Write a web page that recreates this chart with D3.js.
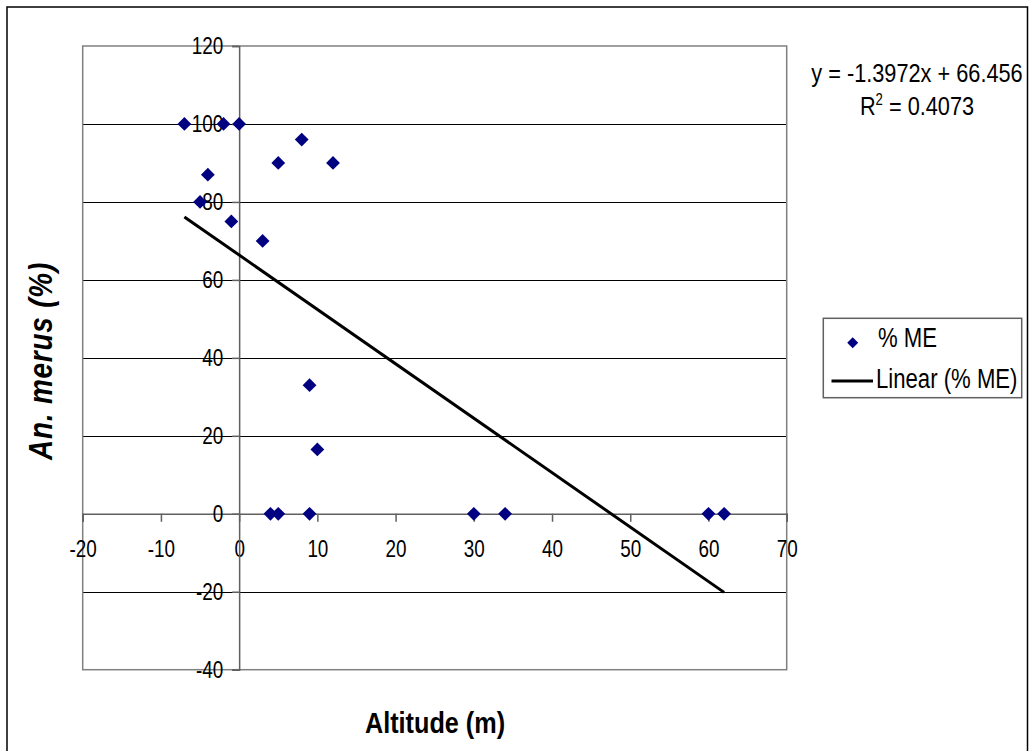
<!DOCTYPE html>
<html>
<head>
<meta charset="utf-8">
<script src="https://cdn.jsdelivr.net/npm/d3@7"></script>
<style>
  body { margin: 0; background: #fff; }
  svg text { font-family: "Liberation Sans", Arial, sans-serif; fill: #000; }
</style>
</head>
<body>
<script>
// altitude (m) and % An. merus
const altitude = [-7, -2, 0, 8, 5, 12, -4, -5, -1, 3, 9, 10, 4, 5, 9, 30, 34, 60, 62];
const merusPct = [100, 100, 100, 96, 90, 90, 87, 80, 75, 70, 33, 16.5, 0, 0, 0, 0, 0, 0, 0];
const xTicks = [-20, -10, 0, 10, 20, 30, 40, 50, 60, 70];
const yTicks = [-40, -20, 0, 20, 40, 60, 80, 100, 120];
const seriesName = '% ME';
const equationText = 'y = -1.3972x + 66.456';
const r2Value = '0.4073';

const width = 1029;
const height = 751;
const plot = { left: 82.7, right: 786.7, top: 46, bottom: 669.7 };

// the original uses a narrow face; squeeze Arial to the same width
const narrow = (sel, k = 0.82) => sel.each(function () {
  const len = this.getComputedTextLength();
  d3.select(this)
      .attr('textLength', len * k)
      .attr('lengthAdjust', 'spacingAndGlyphs');
});

const svg = d3.select('body')
  .append('svg')
    .attr('width', width)
    .attr('height', height);

// outer chart border (runs off the bottom of the picture)
svg.append('rect')
    .attr('x', 7)
    .attr('y', 7)
    .attr('width', 1020.5)
    .attr('height', 780)
    .attr('fill', '#fff')
    .attr('stroke', '#000')
    .attr('stroke-width', 1.5);

const x = d3.scaleLinear().domain([-20, 70]).range([plot.left, plot.right]);
const y = d3.scaleLinear().domain([-40, 120]).range([plot.bottom, plot.top]);

// horizontal gridlines
svg.append('g')
  .selectAll('line')
  .data(yTicks.filter(t => t !== 0 && t !== -40 && t !== 120))
  .enter()
  .append('line')
    .attr('x1', plot.left)
    .attr('x2', plot.right)
    .attr('y1', d => Math.round(y(d)) + 0.5)
    .attr('y2', d => Math.round(y(d)) + 0.5)
    .attr('stroke', '#000')
    .attr('stroke-width', 1);

// plot area border
svg.append('rect')
    .attr('x', plot.left)
    .attr('y', plot.top)
    .attr('width', plot.right - plot.left)
    .attr('height', plot.bottom - plot.top)
    .attr('fill', 'none')
    .attr('stroke', '#808080')
    .attr('stroke-width', 1.5);

// axes crossing at the origin
const xAxis = d3.axisBottom(x)
    .tickValues(xTicks)
    .tickSize(8)
    .tickPadding(19)
    .tickFormat(d => String(d));

svg.append('g')
    .attr('transform', `translate(0, ${y(0)})`)
    .call(xAxis)
    .call(g => g.selectAll('text').attr('font-size', 23).style('font-family', null))
    .call(g => g.selectAll('line, path').attr('stroke', '#606060').attr('stroke-width', 1.5));

const yAxis = d3.axisLeft(y)
    .tickValues(yTicks)
    .tickSize(7)
    .tickPadding(9)
    .tickFormat(d => String(d));

svg.append('g')
    .attr('transform', `translate(${x(0)}, 0)`)
    .call(yAxis)
    .call(g => g.selectAll('text').attr('font-size', 23).style('font-family', null))
    .call(g => g.selectAll('line, path').attr('stroke', '#606060').attr('stroke-width', 1.5));

svg.selectAll('.domain').attr('fill', 'none');
svg.selectAll('.tick text').attr('fill', '#000').call(narrow);

// least squares trendline over the data range
const mx = d3.mean(altitude);
const my = d3.mean(merusPct);
const sxy = d3.sum(altitude, (v, i) => (v - mx) * (merusPct[i] - my));
const sxx = d3.sum(altitude, v => (v - mx) * (v - mx));
const slope = sxy / sxx;
const intercept = my - slope * mx;
const xExtent = d3.extent(altitude);

svg.append('path')
    .datum(xExtent)
    .attr('d', d3.line()
      .x(d => x(d))
      .y(d => y(slope * d + intercept)))
    .attr('stroke', '#000')
    .attr('stroke-width', 3)
    .attr('fill', 'none');

// scatter points
const diamond = d3.symbol().type(d3.symbolSquare).size(95);
const points = altitude.map((v, i) => [v, merusPct[i]]);

svg.append('g')
  .selectAll('path')
  .data(points)
  .enter()
  .append('path')
    .attr('d', diamond)
    .attr('transform', d => `translate(${x(d[0])}, ${y(d[1])}) rotate(45)`)
    .attr('fill', '#000080');

// equation label
svg.append('text')
    .attr('x', 917)
    .attr('y', 82)
    .attr('text-anchor', 'middle')
    .attr('font-size', 26.5)
    .text(equationText)
    .call(narrow);

const r2 = svg.append('text')
    .attr('x', 917)
    .attr('y', 115)
    .attr('text-anchor', 'middle')
    .attr('font-size', 26.5);
r2.append('tspan').text('R');
r2.append('tspan').attr('dy', -10).attr('font-size', 16).text('2');
r2.append('tspan').attr('dy', 10).text(` = ${r2Value}`);
r2.call(narrow);

// legend
svg.append('rect')
    .attr('x', 823.3)
    .attr('y', 318.3)
    .attr('width', 198.4)
    .attr('height', 79.4)
    .attr('fill', '#fff')
    .attr('stroke', '#606060')
    .attr('stroke-width', 1.5);

svg.append('path')
    .attr('d', d3.symbol().type(d3.symbolSquare).size(60))
    .attr('transform', 'translate(852.7, 342.7) rotate(45)')
    .attr('fill', '#000080');

svg.append('text')
    .attr('x', 878)
    .attr('y', 347)
    .attr('font-size', 27)
    .text(seriesName)
    .call(narrow);

svg.append('line')
    .attr('x1', 831.5)
    .attr('x2', 873)
    .attr('y1', 381)
    .attr('y2', 381)
    .attr('stroke', '#000')
    .attr('stroke-width', 3);

svg.append('text')
    .attr('x', 876)
    .attr('y', 388)
    .attr('font-size', 27)
    .text(`Linear (${seriesName})`)
    .call(narrow);

// axis titles
svg.append('text')
    .attr('x', 435)
    .attr('y', 733)
    .attr('text-anchor', 'middle')
    .attr('font-size', 29)
    .attr('font-weight', 'bold')
    .text('Altitude (m)')
    .call(narrow, 0.87);

svg.append('text')
    .attr('transform', 'translate(51.5, 361) rotate(-90)')
    .attr('text-anchor', 'middle')
    .attr('font-size', 34)
    .attr('font-weight', 'bold')
    .attr('font-style', 'italic')
    .attr('letter-spacing', 1)
    .text('An. merus (%)')
    .call(narrow);
</script>
</body>
</html>
